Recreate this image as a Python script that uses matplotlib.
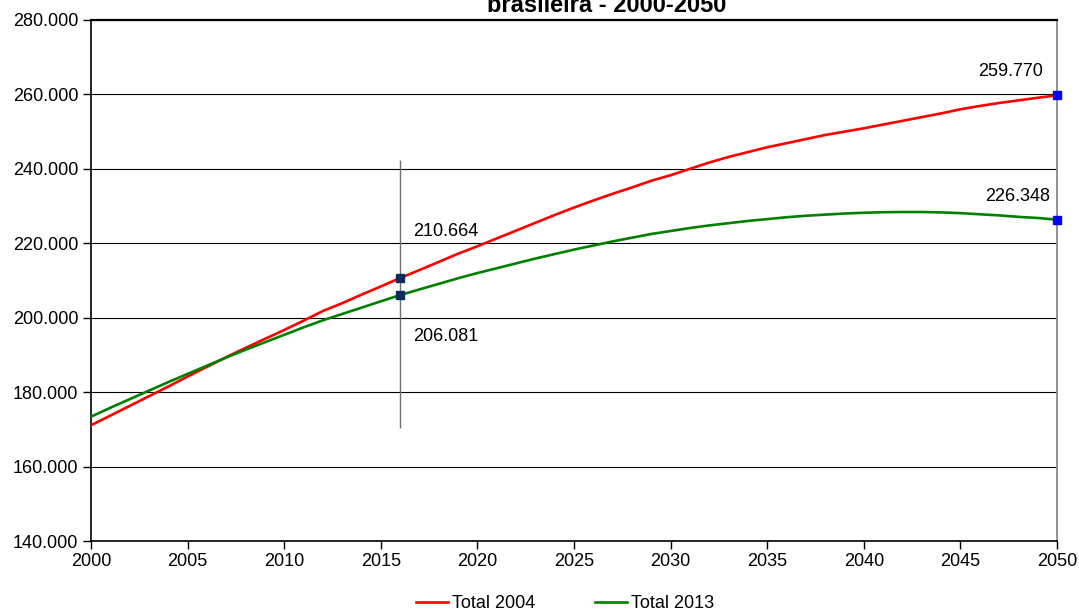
import matplotlib.pyplot as plt
import numpy as np

plt.rcParams['font.family'] = ['Liberation Sans', 'DejaVu Sans']

anos = list(range(2000, 2051))

# populacao em milhares - projecao 2004
total_2004 = [171.1, 173.7, 176.3, 178.9, 181.5, 184.2, 186.8, 189.4, 191.9, 194.3,
              196.7, 199.2, 201.8, 203.9, 206.2, 208.4, 210.664, 212.8, 215.0, 217.2,
              219.2, 221.3, 223.4, 225.5, 227.6, 229.6, 231.5, 233.3, 235.0, 236.8,
              238.3, 240.0, 241.7, 243.2, 244.5, 245.8, 246.9, 248.0, 249.1, 250.0,
              250.9, 251.9, 252.9, 253.9, 254.9, 256.0, 256.9, 257.7, 258.4, 259.1,
              259.77]

# projecao 2013
total_2013 = [173.4, 175.8, 178.1, 180.4, 182.7, 184.9, 187.1, 189.3, 191.4, 193.4,
              195.4, 197.4, 199.3, 201.0, 202.7, 204.4, 206.081, 207.6, 209.1, 210.6,
              212.0, 213.3, 214.6, 215.9, 217.1, 218.3, 219.4, 220.5, 221.5, 222.5,
              223.3, 224.1, 224.8, 225.4, 226.0, 226.5, 227.0, 227.4, 227.7, 228.0,
              228.2, 228.35, 228.4, 228.4, 228.3, 228.1, 227.8, 227.5, 227.1, 226.8,
              226.348]

y_ticks = [140, 160, 180, 200, 220, 240, 260, 280]
y_labels = ['140.000', '160.000', '180.000', '200.000', '220.000', '240.000', '260.000', '280.000']
x_ticks = [2000, 2005, 2010, 2015, 2020, 2025, 2030, 2035, 2040, 2045, 2050]

ano_marca = 2016
fs = 13

fig = plt.figure(figsize=(10.79, 6.11), dpi=100)
ax = fig.add_axes([91/1079, 1-541/611, (1057-91)/1079, (541-20)/611])

ax.plot(anos, total_2004, color='#ff0000', lw=1.9, label='Total 2004', zorder=3)
ax.plot(anos, total_2013, color='#008000', lw=1.9, label='Total 2013', zorder=3)

# linha vertical em 2016
ax.vlines(ano_marca, 170.4, 242.4, color='#707070', lw=1, zorder=2)

i16 = anos.index(ano_marca)
ax.plot([ano_marca, ano_marca], [total_2004[i16], total_2013[i16]], 's',
        color='#0d2a5c', ms=6, ls='none', zorder=4, clip_on=False)
ax.plot([anos[-1], anos[-1]], [total_2004[-1], total_2013[-1]], 's',
        color='#0000ff', ms=6, ls='none', zorder=4, clip_on=False)

def fmt(v):
    return ('%.3f' % v)

ax.text(ano_marca + 0.65, total_2004[i16] + 12.6, fmt(total_2004[i16]), fontsize=fs,
        ha='left', va='center')
ax.text(ano_marca + 0.65, total_2013[i16] - 11.0, fmt(total_2013[i16]), fontsize=fs,
        ha='left', va='center')
ax.text(2049.3, total_2004[-1] + 6.4, fmt(total_2004[-1]), fontsize=fs,
        ha='right', va='center')
ax.text(2049.65, total_2013[-1] + 6.2, fmt(total_2013[-1]), fontsize=fs,
        ha='right', va='center')

ax.set_xlim(2000, 2050)
ax.set_ylim(140, 280)
ax.set_yticks(y_ticks)
ax.set_yticklabels(y_labels)
ax.set_xticks(x_ticks)
ax.tick_params(labelsize=fs, direction='out', length=6, width=1, color='black')
ax.tick_params(axis='y', pad=3)
ax.tick_params(axis='x', pad=3)
ax.grid(axis='y', color='black', lw=0.8)
ax.set_axisbelow(True)
for s in ['left', 'bottom']:
    ax.spines[s].set_color('black')
    ax.spines[s].set_linewidth(1.2)
ax.spines['top'].set_color('black')
ax.spines['top'].set_linewidth(1.6)
ax.spines['right'].set_color('#808080')
ax.spines['right'].set_linewidth(1.2)

# titulo cortado no topo da figura
fig.text(607/1079, 1-12.5/611, 'brasileira - 2000-2050', fontsize=17, fontweight='bold',
         ha='center', va='baseline')

fig.legend(loc='center', bbox_to_anchor=(565/1079, 1-604/611), ncol=2, frameon=False,
           fontsize=fs, handlelength=1.8, handletextpad=0.2, columnspacing=3.3)

fig.savefig('out.png', dpi=100)
